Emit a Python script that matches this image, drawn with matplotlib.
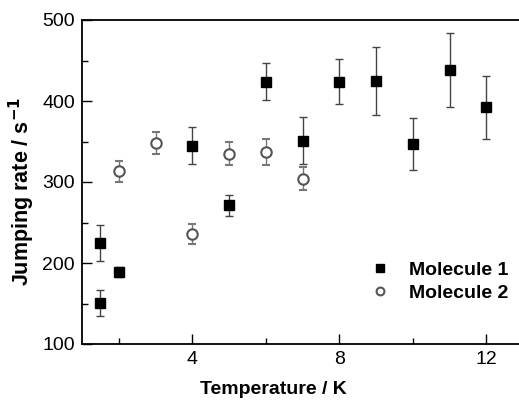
import matplotlib.pyplot as plt
from matplotlib.ticker import MultipleLocator

plt.rcParams['font.family'] = ['Liberation Sans', 'DejaVu Sans']

# Molecule 1
t1 = [1.5, 1.5, 2, 4, 5, 6, 7, 8, 9, 10, 11, 12]
rate1 = [225, 151, 189, 345, 271, 424, 351, 424, 425, 347, 438, 392]
err1 = [22, 16, 6, 23, 13, 23, 29, 28, 42, 32, 46, 39]

# Molecule 2
t2 = [2, 3, 4, 5, 6, 7]
rate2 = [313, 348, 236, 335, 337, 304]
err2 = [13, 14, 12, 14, 16, 14]

fig = plt.figure(figsize=(5.19, 4.0), dpi=100)
ax = fig.add_axes([82 / 519, 56 / 400, 441 / 519, 324 / 400])

ax.errorbar(t1, rate1, yerr=err1, fmt='s', color='black', ecolor='#444444',
            markersize=7.5, elinewidth=1.0, capsize=3, capthick=1.0,
            label='Molecule 1', zorder=3)
ax.errorbar(t2, rate2, yerr=err2, fmt='o', mfc='white', mec='#555555',
            mew=1.5, ecolor='#777777', markersize=7.5, elinewidth=1.0,
            capsize=3, capthick=1.0, label='Molecule 2', zorder=3)

ax.set_xlim(1, 13)
ax.set_ylim(100, 500)
ax.xaxis.set_major_locator(MultipleLocator(4))
ax.xaxis.set_minor_locator(MultipleLocator(2))
ax.yaxis.set_major_locator(MultipleLocator(100))
ax.yaxis.set_minor_locator(MultipleLocator(50))
ax.tick_params(which='both', direction='in', top=False, right=False,
               labelsize=14, width=1.0, pad=5)
ax.tick_params(which='major', length=7)
ax.tick_params(which='minor', length=4)
for s in ax.spines.values():
    s.set_linewidth(1.3)

ax.set_xlabel('Temperature / K', fontsize=14, fontweight='bold')
ax.xaxis.set_label_coords(0.435, -0.115)
ax.set_ylabel('Jumping rate / s$^{\\mathbf{-1}}$', fontsize=15.5,
              fontweight='bold')
ax.yaxis.set_label_coords(-0.103, 0.472)

handles, labels = ax.get_legend_handles_labels()
handles = [h[0] for h in handles]
ax.legend(handles, labels, loc='lower right', bbox_to_anchor=(1.006, 0.075),
          frameon=False, prop={'weight': 'bold', 'size': 14},
          handletextpad=0.9, labelspacing=0.3, markerscale=0.75,
          handlelength=1.2)

fig.savefig('out.png', dpi=100)
